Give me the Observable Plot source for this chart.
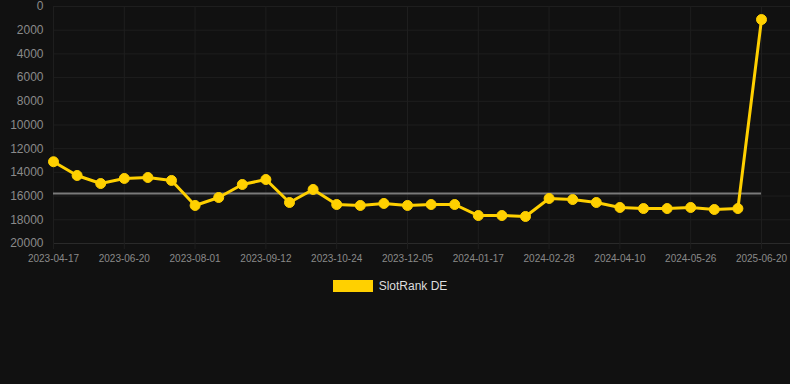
<!DOCTYPE html>
<html>
<head>
<meta charset="utf-8">
<script src="https://cdn.jsdelivr.net/npm/d3@7"></script>
<script src="https://cdn.jsdelivr.net/npm/@observablehq/plot@0.6"></script>
<style>
  html, body { margin: 0; padding: 0; background: #111111; }
  body { width: 790px; height: 384px; overflow: hidden; font-family: "Liberation Sans", Arial, Helvetica, sans-serif; }
  #legend { display: flex; align-items: center; justify-content: center; margin-top: 9px; padding-right: 10px; font-size: 12px; color: #dddddd; }
  #legend .sw { width: 40px; height: 12px; background: #ffd000; margin-right: 6px; }
</style>
</head>
<body>
<div id="chart"></div>
<div id="legend"><span class="sw"></span><span>SlotRank DE</span></div>
<script>
const dates = [
  "2023-04-17","2023-05-09","2023-05-30","2023-06-20","2023-07-04","2023-07-18",
  "2023-08-01","2023-08-15","2023-08-29","2023-09-12","2023-09-26","2023-10-10",
  "2023-10-24","2023-11-07","2023-11-21","2023-12-05","2023-12-19","2024-01-03",
  "2024-01-17","2024-01-31","2024-02-14","2024-02-28","2024-03-13","2024-03-27",
  "2024-04-10","2024-04-26","2024-05-12","2024-05-26","2024-06-09","2024-06-23",
  "2025-06-20"
];
const ranks = [
  13100, 14260, 14940, 14510, 14430, 14680,
  16790, 16120, 15020, 14600, 16540, 15440,
  16710, 16790, 16620, 16790, 16710, 16710,
  17640, 17640, 17720, 16200, 16290, 16540,
  16960, 17050, 17050, 16960, 17130, 17050,
  1100
];
const averageRank = 15780;
const yTicks = [0, 2000, 4000, 6000, 8000, 10000, 12000, 14000, 16000, 18000, 20000];
const xTickIdx = d3.range(0, dates.length, 3);

const data = dates.map((d, i) => ({i, date: d, rank: ranks[i]}));

const chart = Plot.plot({
  width: 790,
  height: 270,
  marginLeft: 53,
  marginRight: 0,
  marginTop: 6,
  marginBottom: 27,
  style: { background: "#111111", fontFamily: "'Liberation Sans', Arial, Helvetica, sans-serif", overflow: "visible" },
  x: { type: "linear", domain: [0, (dates.length - 1) + 29 / 23.6], label: null },
  y: { domain: [0, 20000], reverse: true, label: null },
  marks: [
    Plot.gridY(yTicks.slice(0, -1), { stroke: "#1e1e1e", strokeOpacity: 1, strokeWidth: 1 }),
    Plot.gridY([20000], { stroke: "#2a2a2a", strokeOpacity: 1, strokeWidth: 1 }),
    Plot.gridX(xTickIdx, { stroke: "#1e1e1e", strokeOpacity: 1, strokeWidth: 1 }),
    Plot.axisY(yTicks, { tickSize: 0, tickPadding: 10, fontSize: 12, fill: "#8a8a8a", label: null, tickFormat: d => String(d) }),
    Plot.axisX(xTickIdx, { tickSize: 6, tickPadding: 5, fontSize: 10, stroke: "#1e1e1e", fill: "#8a8a8a", label: null, tickFormat: i => dates[i] }),
    Plot.ruleY([averageRank], { x1: 0, x2: dates.length - 1, stroke: "#7a7a7a", strokeWidth: 2 }),
    Plot.line(data, { x: "i", y: "rank", stroke: "#ffd000", strokeWidth: 3, strokeLinejoin: "round" }),
    Plot.dot(data, { x: "i", y: "rank", r: 5, fill: "#ffd000", stroke: "#ffd000", strokeWidth: 1 })
  ]
});
document.getElementById("chart").appendChild(chart);
</script>
</body>
</html>
